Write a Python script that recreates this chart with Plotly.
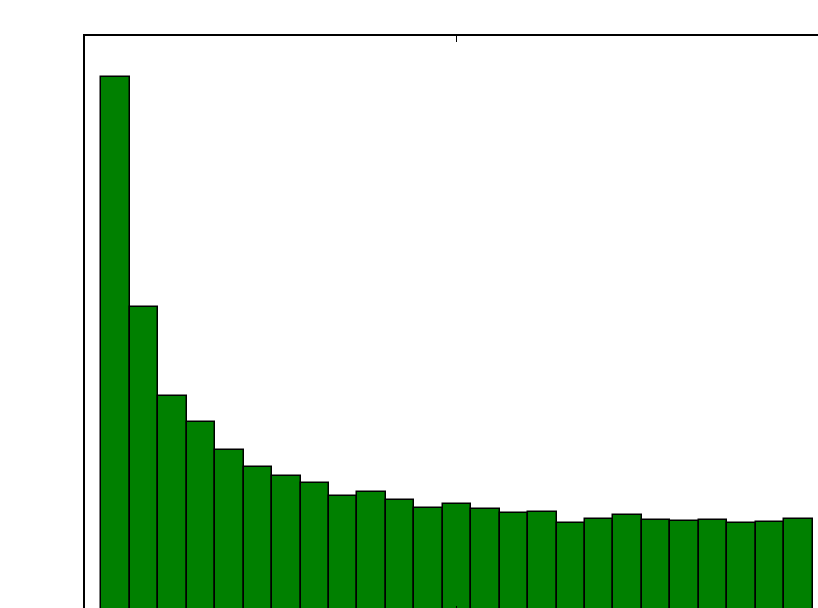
import plotly.graph_objects as go

# Histogram bins (left edges) and counts
bin_width = 0.04
bin_lefts = [round(i * bin_width, 2) for i in range(25)]
counts = [1115, 635, 450, 395, 338, 303, 283, 268, 241, 250, 233, 216, 226,
          215, 207, 209, 185, 193, 202, 192, 189, 192, 185, 187, 194]
x_ticks = [0.5]

centers = [l + bin_width / 2 for l in bin_lefts]

fig = go.Figure()
fig.add_trace(go.Bar(
    x=centers, y=counts, width=bin_width,
    marker=dict(color="#008000", line=dict(color="black", width=1.5)),
    showlegend=False, hoverinfo="skip",
))
# helper trace so the bottom tick axis is drawn
fig.add_trace(go.Scatter(x=[], y=[], xaxis="x2", showlegend=False))

xr = [-0.0231, 1.0077]
fig.update_layout(
    width=818, height=608,
    margin=dict(l=85, r=0, t=36, b=0),
    paper_bgcolor="white", plot_bgcolor="white",
    bargap=0,
    xaxis=dict(range=xr, side="top", showline=True, linecolor="black",
               linewidth=1.5, ticks="inside", ticklen=6, tickwidth=1.2,
               tickcolor="black", tickvals=x_ticks, showticklabels=False,
               showgrid=False, zeroline=False),
    xaxis2=dict(range=xr, overlaying="x", side="bottom", anchor="y",
                showline=False, ticks="inside", ticklen=2, tickwidth=1.2,
                tickcolor="black", tickvals=x_ticks, showticklabels=False,
                showgrid=False, zeroline=False),
    yaxis=dict(range=[8.33, 1200], showline=True, linecolor="black",
               linewidth=1.5, ticks="", showticklabels=False,
               showgrid=False, zeroline=False),
)

fig.write_html(
    "out.html",
    config={"displayModeBar": False},
    post_script="document.body.style.margin='0';"
                "document.body.style.overflow='hidden';",
)
